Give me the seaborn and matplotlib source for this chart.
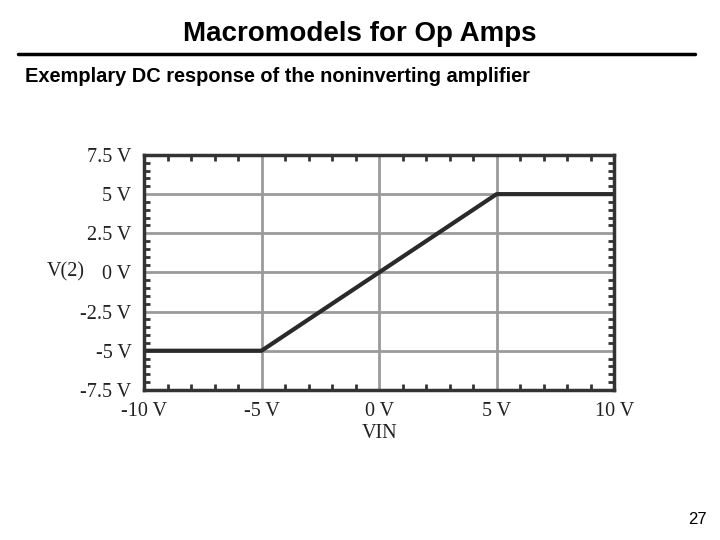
import matplotlib
matplotlib.use("Agg")
import matplotlib.pyplot as plt
import seaborn as sns
from matplotlib.ticker import MultipleLocator, FuncFormatter

# Dados (VIN -> V(2))
vin = [-10, -5, 5, 10]
vout = [-5, -5, 5, 5]

x_ticks = [-10, -5, 0, 5, 10]
y_ticks = [-7.5, -5, -2.5, 0, 2.5, 5, 7.5]

sns.set_style("white")
plt.rcParams["font.family"] = ["Liberation Serif", "DejaVu Serif"]
plt.rcParams["text.color"] = "black"

fig = plt.figure(figsize=(7.2, 5.4), dpi=100)
ax = fig.add_axes([0.2, 0.278, 0.653, 0.435])

sns.lineplot(x=vin, y=vout, ax=ax, color="#2a2a2a", linewidth=3.0)

ax.set_xlim(-10, 10)
ax.set_ylim(-7.5, 7.5)
ax.set_xticks(x_ticks)
ax.set_yticks(y_ticks)
ax.xaxis.set_minor_locator(MultipleLocator(1))
ax.yaxis.set_minor_locator(MultipleLocator(0.5))


def fmt(v, pos):
    s = ("%g" % v)
    return s + " V"


ax.xaxis.set_major_formatter(FuncFormatter(fmt))
ax.yaxis.set_major_formatter(FuncFormatter(fmt))

ax.grid(True, which="major", color="#9a9a9a", linewidth=2.0)
ax.set_axisbelow(True)
for sp in ax.spines.values():
    sp.set_color("#333333")
    sp.set_linewidth(2.5)

ax.tick_params(which="both", direction="in", top=True, right=True,
               bottom=True, left=True,
               color="#333333", labelsize=14.5, labelcolor="#222222")
ax.tick_params(which="major", length=0, pad=9)
ax.tick_params(axis="x", which="major", pad=9)
ax.tick_params(which="minor", length=4, width=2)

ax.set_xlabel("VIN", fontsize=14.5, color="#222222", labelpad=2)
ax.set_ylabel("")
fig.text(0.092, 1 - 272 / 540, "V(2)", fontsize=14.5, color="#222222",
         ha="center", va="center")

# Cabeçalho do slide
fig.text(0.5, 1 - 34 / 540, "Macromodels for Op Amps", fontsize=20,
         fontweight="bold", family="Liberation Sans", ha="center", va="center")
fig.add_artist(plt.Line2D([18 / 720, 695 / 720], [1 - 54 / 540, 1 - 54 / 540],
                          color="black", linewidth=2.5))
fig.text(25 / 720, 1 - 76 / 540, "Exemplary DC response of the noninverting amplifier",
         fontsize=14.4, fontweight="bold", family="Liberation Sans", ha="left", va="center")
fig.text(707 / 720, 1 - 519 / 540, "27", fontsize=12, family="Liberation Sans",
         ha="right", va="center")

fig.savefig("out.png", dpi=100)
